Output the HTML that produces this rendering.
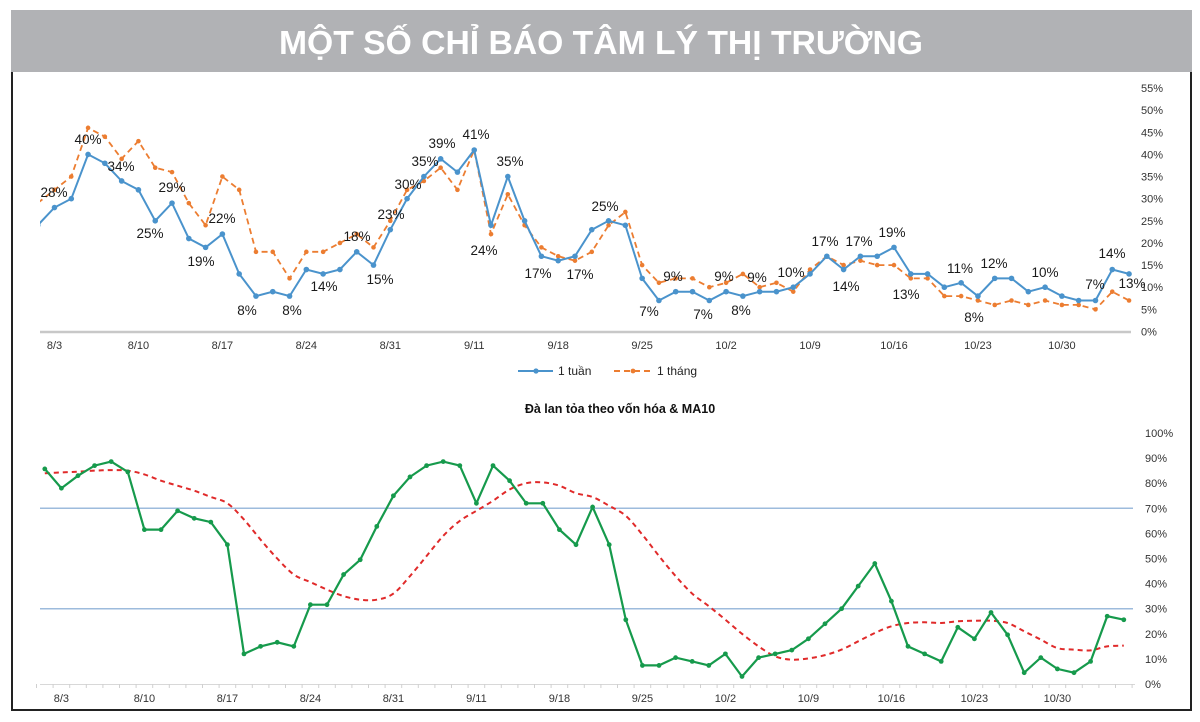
<!DOCTYPE html>
<html><head><meta charset="utf-8"><style>
html,body{margin:0;padding:0;background:#fff;}
svg{display:block;}
text{font-family:"Liberation Sans",sans-serif;}
</style></head><body>
<svg id="c" width="1200" height="722" viewBox="0 0 1200 722" xmlns="http://www.w3.org/2000/svg">
<rect x="11" y="10" width="1181" height="62" fill="#b1b2b5"/>
<text x="601" y="54" text-anchor="middle" font-size="33" font-weight="bold" fill="#fff" textLength="644" lengthAdjust="spacingAndGlyphs">MỘT SỐ CHỈ BÁO TÂM LÝ THỊ TRƯỜNG</text>
<path d="M12 72 V710 H1191 V72" fill="none" stroke="#222" stroke-width="2"/>
<g id="topchart"></g>
<g id="botchart"></g>
<g>
<line x1="518" y1="371" x2="553" y2="371" stroke="#4a93cc" stroke-width="2"/>
<circle cx="536" cy="371" r="2.6" fill="#4a93cc"/>
<text x="558" y="375" font-size="12" fill="#222">1 tuần</text>
<line x1="614" y1="371" x2="652" y2="371" stroke="#ec7d31" stroke-width="2" stroke-dasharray="6,4"/>
<circle cx="633" cy="371" r="2.4" fill="#ec7d31"/>
<text x="657" y="375" font-size="12" fill="#222">1 tháng</text>
</g>
<text x="620" y="413" text-anchor="middle" font-size="12.5" font-weight="bold" fill="#111">Đà lan tỏa theo vốn hóa &amp; MA10</text>
</svg>
<script>
// ---------- top chart data ----------
const topDates = ["8/3","8/10","8/17","8/24","8/31","9/11","9/18","9/25","10/2","10/9","10/16","10/23","10/30"];
const topYTicks = [0,5,10,15,20,25,30,35,40,45,50,55];
const week = [24,28,30,40,38,34,32,25,29,21,19,22,13,8,9,8,14,13,14,18,15,23,30,35,39,36,41,24,35,25,17,16,17,23,25,24,12,7,9,9,7,9,8,9,9,10,13,17,14,17,17,19,13,13,10,11,8,12,12,9,10,8,7,7,14,13];
const month = [29,32,35,46,44,39,43,37,36,29,24,35,32,18,18,12,18,18,20,22,19,25,32,34,37,32,41,22,31,24,19,17,16,18,24,27,15,11,12,12,10,11,13,10,11,9,14,17,15,16,15,15,12,12,8,8,7,6,7,6,7,6,6,5,9,7];
const topLabelText = ["28%","40%","34%","29%","25%","19%","22%","8%","8%","14%","18%","15%","23%","30%","35%","39%","41%","24%","35%","17%","17%","25%","7%","9%","7%","9%","8%","9%","10%","17%","14%","17%","19%","13%","11%","8%","12%","10%","7%","14%","13%"];
const topLabelPos = [[54,192],[88,139],[121,166],[172,187],[150,233],[201,261],[222,218],[247,310],[292,310],[324,286],[357,236],[380,279],[391,214],[408,184],[425,161],[442,143],[476,134],[484,250],[510,161],[538,273],[580,274],[605,206],[649,311],[673,276],[703,314],[724,276],[741,310],[757,277],[791,272],[825,241],[846,286],[859,241],[892,232],[906,294],[960,268],[974,317],[994,263],[1045,272],[1095,284],[1112,253],[1132,283]];
// ---------- bottom chart data ----------
const botDates = ["8/3","8/10","8/17","8/24","8/31","9/11","9/18","9/25","10/2","10/9","10/16","10/23","10/30"];
const botYTicks = [0,10,20,30,40,50,60,70,80,90,100];
const breadth = [85.7,78,83,87,88.6,84.5,61.5,61.5,69,66,64.5,55.5,12,15,16.6,15,31.6,31.6,43.6,49.5,62.8,75,82.5,87,88.6,87,72,87,81,72,72,61.5,55.5,70.5,55.5,25.6,7.4,7.4,10.5,9,7.4,12,3,10.5,12,13.5,18,24,30,39,48,33,15,12,9,22.6,18,28.5,19.6,4.5,10.5,6,4.5,9,27,25.6];
const ma10 = [84,84.3,84.6,85,85.2,85,83.5,81,79,77,74.5,72,65.5,57.5,50,43.6,40.6,37.6,35,33.6,33.6,36,43,51,59,65,69,73,77.5,80,80.3,79,76,74.5,71,67,59.5,51,43,36,31,25.6,20,15,11,9.7,10.2,11.5,13.7,17,20.3,23,24.3,24.6,24.3,25,25.2,25.2,24.3,21,17.7,14.3,13.7,13.4,15,15.3];
const refLines = [30,70];

const NS="http://www.w3.org/2000/svg";
function mk(tag,attrs,parent){const e=document.createElementNS(NS,tag);for(const k in attrs)e.setAttribute(k,attrs[k]);parent.appendChild(e);return e;}
function poly(arr,fx,fy){return arr.map((v,i)=>fx(i).toFixed(1)+','+fy(v).toFixed(1)).join(' ');}

// top axes
const tx = i => 37.7 + 16.79*i;
const ty = v => 331.5 - v*4.427;
const topG = document.getElementById('topchart');
const clipT = mk('clipPath',{id:'ct'},topG);
mk('rect',{x:40,y:80,width:1100,height:260},clipT);
const tAxis = mk('line',{x1:40,y1:332,x2:1131,y2:332,stroke:'#c8c8c8','stroke-width':2.5},topG);


topYTicks.forEach(v=>{
  const t=mk('text',{x:1141,y:ty(v)+4,'font-size':11,fill:'#333'},topG);
  t.textContent=v+'%';
  
  
});
topDates.forEach((d,k)=>{
  const t=mk('text',{x:tx(1+5*k),y:349,'font-size':11,fill:'#333','text-anchor':'middle'},topG);
  t.textContent=d;
  
  
});
const gT = mk('g',{'clip-path':'url(#ct)'},topG);
const mLine = mk('polyline',{points:poly(month,tx,ty),fill:'none',stroke:'#ec7d31','stroke-width':1.8,'stroke-dasharray':'6,4'},gT);


month.forEach((v,i)=>{
  const c=mk('circle',{cx:tx(i),cy:ty(v),r:2.3,fill:'#ec7d31'},gT);
  
  
});
const wLine = mk('polyline',{points:poly(week,tx,ty),fill:'none',stroke:'#4a93cc','stroke-width':2},gT);


week.forEach((v,i)=>{
  const c=mk('circle',{cx:tx(i),cy:ty(v),r:2.8,fill:'#4a93cc'},gT);
  
  
});
topLabelText.forEach((s,k)=>{
  const t=mk('text',{x:topLabelPos[k][0],y:topLabelPos[k][1]+5,'font-size':13.5,fill:'#1a1a1a','text-anchor':'middle'},topG);
  t.textContent=s;
  
  
});

// bottom axes
const bx = i => 44.8 + 16.6*i;
const by = v => 684 - v*2.51;
const botG = document.getElementById('botchart');
refLines.forEach(v=>{
  const l=mk('line',{x1:40,y1:by(v),x2:1133,y2:by(v),stroke:'#9dbbdc','stroke-width':1.5},botG);
  
  
});
const bAxis = mk('line',{x1:40,y1:684.5,x2:1135,y2:684.5,stroke:'#d8d8d8','stroke-width':1},botG);


for(let i=0;i<=66;i++){
  const tk=mk('line',{x1:bx(i)-8.3,y1:684,x2:bx(i)-8.3,y2:688,stroke:'#d0d0d0','stroke-width':1},botG);
  
  
}
botYTicks.forEach(v=>{
  const t=mk('text',{x:1145,y:by(v)+4,'font-size':11,fill:'#333'},botG);
  t.textContent=v+'%';
  
  
});
botDates.forEach((d,k)=>{
  const t=mk('text',{x:bx(1+5*k),y:702,'font-size':11,fill:'#333','text-anchor':'middle'},botG);
  t.textContent=d;
  
  
});
function smooth(arr,fx,fy){
  const p=arr.map((v,i)=>[fx(i),fy(v)]);
  let d='M'+p[0][0].toFixed(1)+' '+p[0][1].toFixed(1);
  for(let i=0;i<p.length-1;i++){
    const p0=p[Math.max(0,i-1)],p1=p[i],p2=p[i+1],p3=p[Math.min(p.length-1,i+2)];
    const c1=[p1[0]+(p2[0]-p0[0])/6,p1[1]+(p2[1]-p0[1])/6];
    const c2=[p2[0]-(p3[0]-p1[0])/6,p2[1]-(p3[1]-p1[1])/6];
    d+=' C'+c1[0].toFixed(1)+' '+c1[1].toFixed(1)+' '+c2[0].toFixed(1)+' '+c2[1].toFixed(1)+' '+p2[0].toFixed(1)+' '+p2[1].toFixed(1);
  }
  return d;
}
const maPath = mk('path',{d:smooth(ma10,bx,by),fill:'none',stroke:'#e02a2a','stroke-width':2,'stroke-dasharray':'5,4'},botG);


const brLine = mk('polyline',{points:poly(breadth,bx,by),fill:'none',stroke:'#169a4c','stroke-width':2.2},botG);


breadth.forEach((v,i)=>{
  const c=mk('circle',{cx:bx(i),cy:by(v),r:2.4,fill:'#169a4c'},botG);
  
  
});
</script>
</body></html>
